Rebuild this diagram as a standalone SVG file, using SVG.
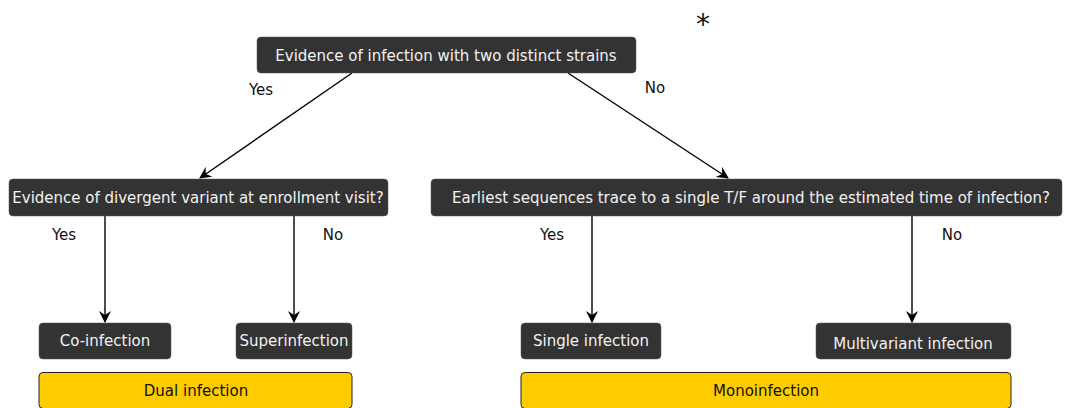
<svg xmlns="http://www.w3.org/2000/svg" width="1066" height="408" viewBox="0 0 1066 408">
<style>
.n{fill:#333333;stroke:#555;stroke-width:0.5}
.y{fill:#FFCC00;stroke:#222;stroke-width:1}
.t{font-family:"DejaVu Sans",sans-serif;font-size:15px;fill:#f2f2f2;text-anchor:middle;dominant-baseline:central}
.k{font-family:"DejaVu Sans",sans-serif;font-size:15px;fill:#111;text-anchor:middle;dominant-baseline:central}
.c{stroke:#000;stroke-width:1.4;fill:none;marker-end:url(#a)}
</style>
<defs>
<marker id="a" viewBox="0 0 12 12" refX="11" refY="6" markerWidth="12" markerHeight="12" markerUnits="userSpaceOnUse" orient="auto">
<path d="M0,0 L12,6 L0,12 L4,6 Z" fill="#000"/>
</marker>
</defs>
<g id="connectors">
<line class="c" x1="352" y1="73" x2="200" y2="178"/>
<line class="c" x1="568" y1="73" x2="728" y2="178"/>
<line class="c" x1="105" y1="216" x2="105" y2="322"/>
<line class="c" x1="294" y1="216" x2="294" y2="322"/>
<line class="c" x1="592" y1="216" x2="592" y2="322"/>
<line class="c" x1="912" y1="216" x2="912" y2="322"/>
<text class="k" x="261" y="90">Yes</text>
<text class="k" x="655" y="88">No</text>
<text class="k" x="64" y="235">Yes</text>
<text class="k" x="333" y="235">No</text>
<text class="k" x="552" y="235">Yes</text>
<text class="k" x="952" y="235">No</text>
</g>
<text class="k" x="703" y="24" style="font-size:28px">*</text>
<g id="n1"><rect class="n" x="257" y="37" width="379" height="36" rx="4"/><text class="t" x="446" y="56">Evidence of infection with two distinct strains</text></g>
<g id="n2"><rect class="n" x="9" y="179" width="379" height="37" rx="4"/><text class="t" x="198" y="198">Evidence of divergent variant at enrollment visit?</text></g>
<g id="n3"><rect class="n" x="431" y="179" width="631" height="37" rx="4"/><text class="t" x="751" y="198">Earliest sequences trace to a single T/F around the estimated time of infection?</text></g>
<g id="n4"><rect class="n" x="39" y="323" width="132" height="36" rx="4"/><text class="t" x="105" y="341">Co-infection</text></g>
<g id="n5"><rect class="n" x="236" y="323" width="116" height="36" rx="4"/><text class="t" x="294" y="341">Superinfection</text></g>
<g id="n6"><rect class="n" x="521" y="323" width="140" height="36" rx="4"/><text class="t" x="591" y="341">Single infection</text></g>
<g id="n7"><rect class="n" x="816" y="323" width="195" height="36" rx="4"/><text class="t" x="913" y="344">Multivariant infection</text></g>
<g id="n8"><rect class="y" x="39" y="372.5" width="313" height="36" rx="4"/><text class="k" x="196" y="391">Dual infection</text></g>
<g id="n9"><rect class="y" x="521" y="372.5" width="490" height="36" rx="4"/><text class="k" x="766" y="391">Monoinfection</text></g>
</svg>
